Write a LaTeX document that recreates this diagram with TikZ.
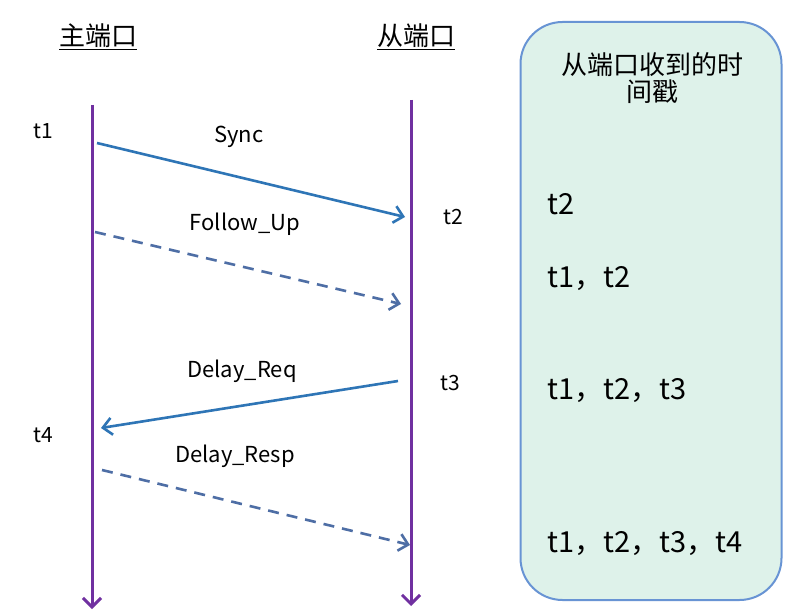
\documentclass[tikz,border=0pt]{standalone}
\usepackage{fontspec}
\setmainfont{Noto Sans CJK SC}
\usepackage{tikz}
\usetikzlibrary{arrows.meta,positioning}
\definecolor{purpleline}{RGB}{112,48,160}
\definecolor{msgblue}{RGB}{46,117,182}
\definecolor{msgdash}{RGB}{78,110,165}
\definecolor{boxfill}{RGB}{222,242,234}
\definecolor{boxline}{RGB}{104,148,212}
\tikzstyle{lifeline}=[draw=purpleline,line width=3pt,-{Straight Barb[length=9pt,width=18pt,line width=3pt]}]
\tikzstyle{msg}=[draw=msgblue,line width=2.6pt,-{Straight Barb[length=9pt,width=17pt,line width=2.6pt]}]
\tikzstyle{reply}=[msg,draw=msgdash,dash pattern=on 11pt off 8pt]
\tikzstyle{porttitle}=[font=\fontsize{26}{28}\selectfont]
\tikzstyle{tlabel}=[font=\fontsize{21}{24}\selectfont]
\tikzstyle{msglabel}=[font=\fontsize{22}{26}\selectfont]
\tikzstyle{stamp}=[anchor=west,font=\fontsize{29}{32}\selectfont]

\begin{document}
\begin{tikzpicture}[x=1pt,y=-1pt]
    \useasboundingbox[fill=white] (0,0) rectangle (792,612);

    % timestamp box
    \node[draw=boxline,fill=boxfill,line width=2pt,rounded corners=42pt,minimum width=261pt,minimum height=578pt] (stampbox) at (651,311) {};
    \node[porttitle,align=center] (stamptitle) at (652,78) {从端口收到的时\\[-1pt]间戳};

    % ports
    \node[porttitle] (master) at (98,37) {\underline{主端口}};
    \node[porttitle] (slave) at (416,37) {\underline{从端口}};
    \coordinate (mtop) at (92,105);
    \coordinate (mbot) at (92,609);
    \coordinate (stop) at (411,100);
    \coordinate (sbot) at (411,606);
    \draw[lifeline] (mtop) -- (mbot);
    \draw[lifeline] (stop) -- (sbot);

    % time points
    \node[tlabel] (t1) at (43,131) {t1};
    \node[tlabel] (t2) at (453,217) {t2};
    \node[tlabel] (t3) at (450,383) {t3};
    \node[tlabel] (t4) at (43,435) {t4};

    % messages
    \coordinate (syncA) at (97,143);
    \coordinate (syncB) at (405,217);
    \coordinate (fupA) at (95,232);
    \coordinate (fupB) at (401,304);
    \coordinate (reqA) at (398,381);
    \coordinate (reqB) at (101,428);
    \coordinate (respA) at (102,470);
    \coordinate (respB) at (410,545);
    \draw[msg] (syncA) -- (syncB);
    \draw[reply] (fupA) -- (fupB);
    \draw[msg] (reqA) -- (reqB);
    \draw[reply] (respA) -- (respB);
    \node[msglabel] (synclabel) at (239,137) {Sync};
    \node[msglabel] (fuplabel) at (245,224) {Follow\_Up};
    \node[msglabel] (reqlabel) at (242,371) {Delay\_Req};
    \node[msglabel] (resplabel) at (235,456) {Delay\_Resp};

    % received timestamps
    \node[stamp] (s1) at (544,204) {t2};
    \node[stamp] (s2) at (544,279) {t1，t2};
    \node[stamp] (s3) at (544,391) {t1，t2，t3};
    \node[stamp] (s4) at (544,544) {t1，t2，t3，t4};
\end{tikzpicture}
\end{document}
